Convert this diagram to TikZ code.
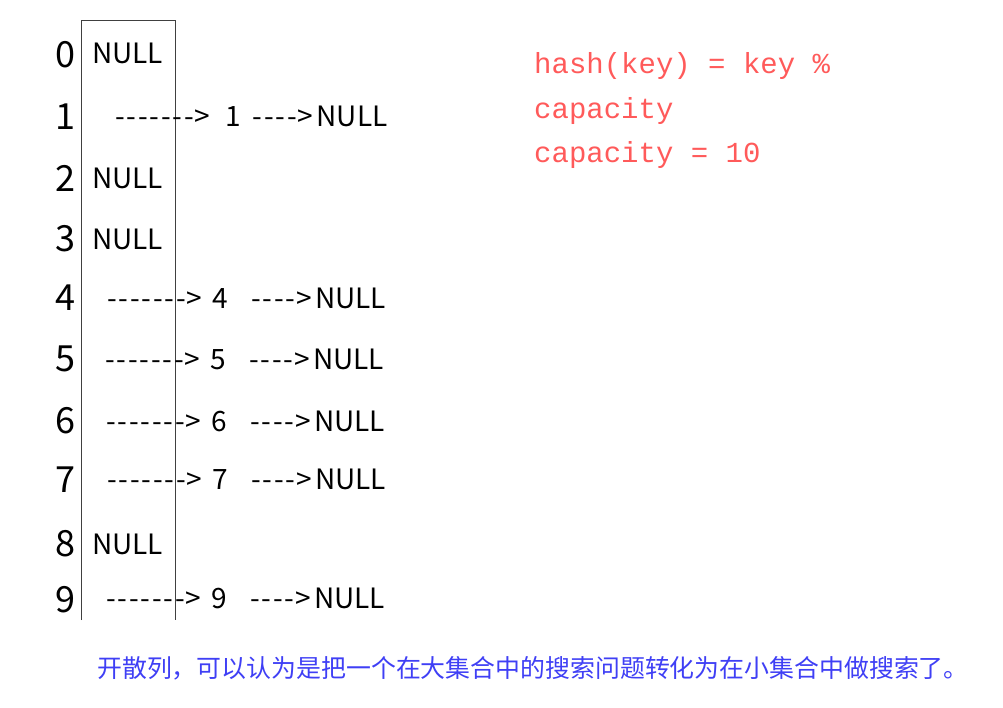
\documentclass[tikz,border=0pt]{standalone}
\usepackage{fontspec}
\setmainfont[Ligatures=TeXOff]{Noto Sans CJK SC}
\newfontfamily\monofont{Liberation Mono}
\definecolor{hashred}{HTML}{FF5A5A}
\definecolor{noteblue}{HTML}{3F3FF5}
\definecolor{boxgray}{HTML}{404040}
\newcommand\hy{\makebox[11.5pt]{-}}
\newcommand\gtr[1]{\makebox[#1][l]{>}}
\newcommand\lng{\hy\hy\hy\hy\hy\hy\hy\gtr{17pt}}
\newcommand\shrt{\hy\hy\hy\hy\gtr{19pt}}
\begin{document}
\begin{tikzpicture}[x=1pt,y=-1pt,
  idx/.style={anchor=center,inner sep=0pt,font=\fontsize{36}{36}\selectfont},
  cell/.style={anchor=west,inner sep=0pt,font=\fontsize{28}{28}\selectfont},
  formula/.style={anchor=west,inner sep=0pt,text=hashred,font=\monofont\fontsize{29}{29}\selectfont},
  note/.style={anchor=west,inner sep=0pt,text=noteblue,font=\fontsize{24.9}{24.9}\selectfont},
  frame/.style={draw=boxgray,line width=1pt}]
\useasboundingbox (0,0) rectangle (1003,707);
% frame of the table
\coordinate (bl) at (81,620);
\coordinate (tl) at (81,20);
\coordinate (tr) at (175,20);
\coordinate (br) at (175,620);
\draw[frame] (bl) -- (tl) -- (tr) -- (br);
% indices
\node[idx] (i0) at (65,55) {0};
\node[idx] (i1) at (65,117) {1};
\node[idx] (i2) at (65,178) {2};
\node[idx] (i3) at (65,239) {3};
\node[idx] (i4) at (65,298) {4};
\node[idx] (i5) at (65,359) {5};
\node[idx] (i6) at (65,421) {6};
\node[idx] (i7) at (65,480) {7};
\node[idx] (i8) at (65,544) {8};
\node[idx] (i9) at (65,600) {9};
% contents
\node[cell] (c0) at (92,53) {NULL};
\node[cell] (c1) at (114,116) {\lng\hspace{14pt}1\hspace{10.5pt}\shrt NULL};
\node[cell] (c2) at (92,178) {NULL};
\node[cell] (c3) at (92,239) {NULL};
\node[cell] (c4) at (106,298) {\lng\hspace{9pt}4\hspace{22pt}\shrt NULL};
\node[cell] (c5) at (104,359) {\lng\hspace{9pt}5\hspace{22pt}\shrt NULL};
\node[cell] (c6) at (105,421) {\lng\hspace{9pt}6\hspace{22pt}\shrt NULL};
\node[cell] (c7) at (106,479) {\lng\hspace{9pt}7\hspace{22pt}\shrt NULL};
\node[cell] (c8) at (92,544) {NULL};
\node[cell] (c9) at (105,598) {\lng\hspace{9pt}9\hspace{22pt}\shrt NULL};
% formula
\node[formula] (f1) at (534,66) {hash(key) = key \%};
\node[formula] (f2) at (534,111) {capacity};
\node[formula] (f3) at (534,155) {capacity = 10};
% note
\node[note] (n) at (97,668) {开散列，可以认为是把一个在大集合中的搜索问题转化为在小集合中做搜索了。};
\end{tikzpicture}
\end{document}
